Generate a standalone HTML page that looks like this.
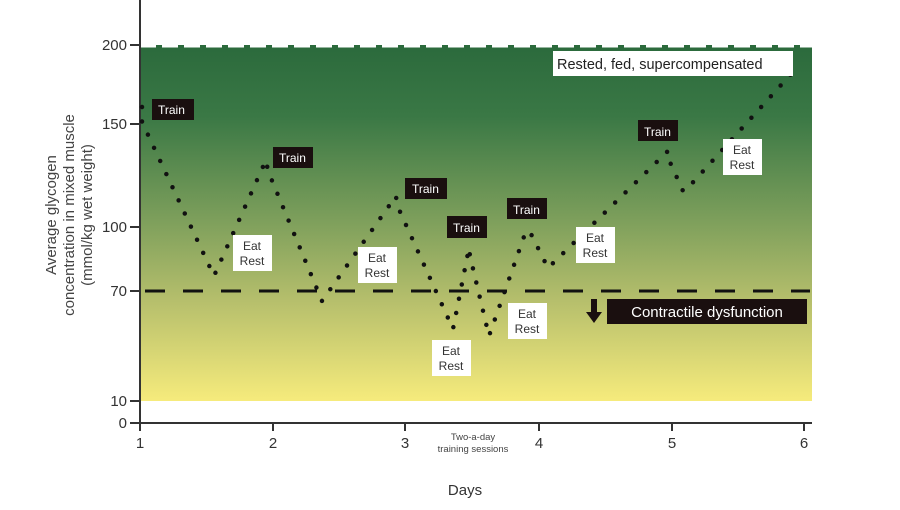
<!DOCTYPE html>
<html><head><style>
body{margin:0;background:#fff;}
svg{display:block;font-family:"Liberation Sans",Arial,sans-serif;}
</style></head><body>
<svg width="900" height="510" viewBox="0 0 900 510">
<defs>
<linearGradient id="g" x1="0" y1="0" x2="0" y2="1">
<stop offset="0" stop-color="#2b6a3c"/>
<stop offset="0.2" stop-color="#3a7845"/>
<stop offset="0.5" stop-color="#7fa05c"/>
<stop offset="0.72" stop-color="#b6bf6c"/>
<stop offset="1" stop-color="#f6eb7c"/>
</linearGradient>
</defs>
<rect x="140" y="45" width="672" height="356" fill="url(#g)"/>
<line x1="140" y1="46" x2="812" y2="46" stroke="#fff" stroke-width="3" stroke-dasharray="16 6"/>
<line x1="145" y1="291" x2="810" y2="291" stroke="#111" stroke-width="3" stroke-dasharray="20 18"/>
<!-- axes -->
<line x1="140" y1="0" x2="140" y2="424" stroke="#333" stroke-width="2"/>
<line x1="139" y1="423" x2="812" y2="423" stroke="#333" stroke-width="2"/>
<g stroke="#333" stroke-width="2">
<line x1="130" y1="45" x2="140" y2="45"/><line x1="130" y1="124" x2="140" y2="124"/>
<line x1="130" y1="227" x2="140" y2="227"/><line x1="130" y1="291" x2="140" y2="291"/>
<line x1="130" y1="401" x2="140" y2="401"/><line x1="130" y1="423" x2="140" y2="423"/>
<line x1="140" y1="423" x2="140" y2="431"/><line x1="273" y1="423" x2="273" y2="431"/>
<line x1="405" y1="423" x2="405" y2="431"/><line x1="539" y1="423" x2="539" y2="431"/>
<line x1="672" y1="423" x2="672" y2="431"/><line x1="804" y1="423" x2="804" y2="431"/>
</g>
<g font-size="15" fill="#333" text-anchor="end">
<text x="127" y="50">200</text><text x="127" y="129">150</text><text x="127" y="232">100</text>
<text x="127" y="296">70</text><text x="127" y="406">10</text><text x="127" y="428">0</text>
</g>
<g font-size="15" fill="#333" text-anchor="middle">
<text x="140" y="448">1</text><text x="273" y="448">2</text><text x="405" y="448">3</text>
<text x="539" y="448">4</text><text x="672" y="448">5</text><text x="804" y="448">6</text>
</g>
<text x="473" y="440" font-size="9.5" fill="#444" text-anchor="middle">Two-a-day</text>
<text x="473" y="452" font-size="9.5" fill="#444" text-anchor="middle">training sessions</text>
<text x="465" y="495" font-size="15" fill="#333" text-anchor="middle">Days</text>
<g font-size="15" fill="#444" text-anchor="middle" transform="rotate(-90)">
<text x="-215" y="56">Average glycogen</text>
<text x="-215" y="74">concentration in mixed muscle</text>
<text x="-215" y="92">(mmol/kg wet weight)</text>
</g>
<!-- dotted series -->
<path d="M142,107 L142,122 L214,276 L266,160 L268,171 L322,301 L396,196 L397,205 L453,329 L469,248 L470,256 L489,336 L526,231 L530,232 L548,268 L668,151 L669,160 L683,191 L686,190 L791,74"
 fill="none" stroke="#111" stroke-width="4.5" stroke-linecap="round" stroke-dasharray="0 14.5"/>
<!-- Train labels -->
<g font-size="12" fill="#fff">
<rect x="152" y="99" width="42" height="21" fill="#1a0f0f"/><text x="158" y="114">Train</text>
<rect x="273" y="147" width="40" height="21" fill="#1a0f0f"/><text x="279" y="162">Train</text>
<rect x="405" y="178" width="42" height="21" fill="#1a0f0f"/><text x="412" y="193">Train</text>
<rect x="447" y="216" width="40" height="22" fill="#1a0f0f"/><text x="453" y="232">Train</text>
<rect x="507" y="198" width="40" height="21" fill="#1a0f0f"/><text x="513" y="214">Train</text>
<rect x="638" y="120" width="40" height="21" fill="#1a0f0f"/><text x="644" y="136">Train</text>
</g>
<!-- Eat Rest labels -->
<g font-size="12" fill="#333" text-anchor="middle">
<rect x="233" y="235" width="39" height="36" fill="#fff"/><text x="252" y="250">Eat</text><text x="252" y="265">Rest</text>
<rect x="358" y="247" width="39" height="36" fill="#fff"/><text x="377" y="262">Eat</text><text x="377" y="277">Rest</text>
<rect x="432" y="340" width="39" height="36" fill="#fff"/><text x="451" y="355">Eat</text><text x="451" y="370">Rest</text>
<rect x="508" y="303" width="39" height="36" fill="#fff"/><text x="527" y="318">Eat</text><text x="527" y="333">Rest</text>
<rect x="576" y="227" width="39" height="36" fill="#fff"/><text x="595" y="242">Eat</text><text x="595" y="257">Rest</text>
<rect x="723" y="139" width="39" height="36" fill="#fff"/><text x="742" y="154">Eat</text><text x="742" y="169">Rest</text>
</g>
<rect x="553" y="51" width="240" height="25" fill="#fff"/>
<text x="557" y="69" font-size="14.5" fill="#222">Rested, fed, supercompensated</text>
<rect x="607" y="299" width="200" height="25" fill="#1a0f0f"/>
<text x="707" y="317" font-size="15" fill="#fff" text-anchor="middle">Contractile dysfunction</text>
<path d="M591,299 L597,299 L597,312 L602,312 L594,323 L586,312 L591,312 Z" fill="#1a0f0f"/>
</svg>
</body></html>
